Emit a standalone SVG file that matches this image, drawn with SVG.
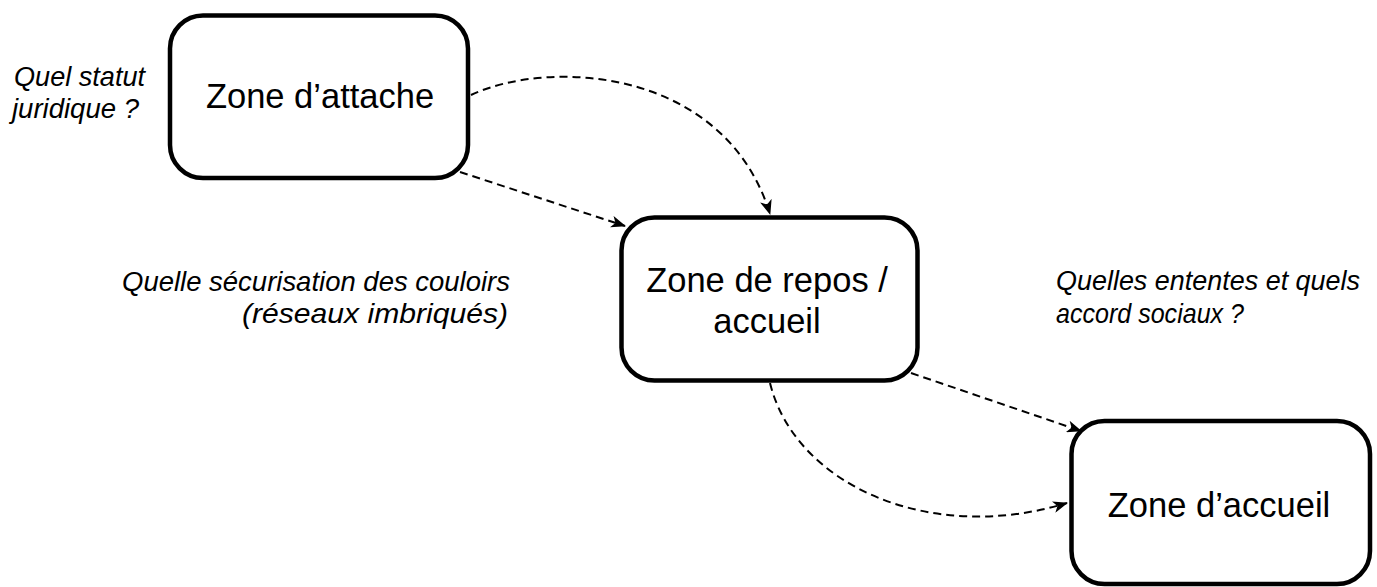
<svg xmlns="http://www.w3.org/2000/svg" width="1377" height="587" viewBox="0 0 1377 587">
  <style>
    .box { fill: #ffffff; stroke: #000000; stroke-width: 4.5; }
    .label { font-family: "Liberation Sans", Arial, sans-serif; font-size: 34.5px; fill: #000000; text-anchor: middle; }
    .note { font-family: "Liberation Sans", Arial, sans-serif; font-size: 28px; font-style: italic; fill: #000000; }
    .link { fill: none; stroke: #000000; stroke-width: 2; stroke-dasharray: 8 5; }
  </style>
  <defs>
    <marker id="arrow" viewBox="0 0 15 12" refX="14" refY="6" markerWidth="15" markerHeight="12" markerUnits="userSpaceOnUse" orient="auto">
      <path d="M0,0 L15,6 L0,12 L4,6 Z" fill="#000000"/>
    </marker>
  </defs>

  <rect width="1377" height="587" fill="#ffffff"/>

  <g id="connectors">
    <path class="link" d="M471,95 C550,58 725,68 770,214" marker-end="url(#arrow)"/>
    <path class="link" d="M460,172 L625,226" marker-end="url(#arrow)"/>
    <path class="link" d="M911,373 L1081,431" marker-end="url(#arrow)"/>
    <path class="link" d="M770,383 C795,485 930,545 1067,503" marker-end="url(#arrow)"/>
  </g>

  <g id="zone-attache">
    <rect class="box" x="170" y="15.5" width="298" height="162.5" rx="33"/>
    <text class="label" x="320" y="108">Zone d’attache</text>
  </g>

  <g id="zone-repos">
    <rect class="box" x="621.5" y="217.5" width="296" height="163" rx="33"/>
    <text class="label" x="767" y="292">Zone de repos /</text>
    <text class="label" x="767" y="333">accueil</text>
  </g>

  <g id="zone-accueil">
    <rect class="box" x="1071.5" y="421" width="298.5" height="163" rx="33"/>
    <text class="label" x="1219" y="517">Zone d’accueil</text>
  </g>

  <g id="notes">
    <text class="note" x="14" y="86" textLength="131" lengthAdjust="spacingAndGlyphs">Quel statut</text>
    <text class="note" x="12" y="118" textLength="127" lengthAdjust="spacingAndGlyphs">juridique ?</text>
    <text class="note" x="510" y="291" text-anchor="end" textLength="388" lengthAdjust="spacingAndGlyphs">Quelle sécurisation des couloirs</text>
    <text class="note" x="508" y="323" text-anchor="end" textLength="266" lengthAdjust="spacingAndGlyphs">(réseaux imbriqués)</text>
    <text class="note" x="1056" y="290" textLength="304" lengthAdjust="spacingAndGlyphs">Quelles ententes et quels</text>
    <text class="note" x="1056" y="323" textLength="188" lengthAdjust="spacingAndGlyphs">accord sociaux ?</text>
  </g>
</svg>
